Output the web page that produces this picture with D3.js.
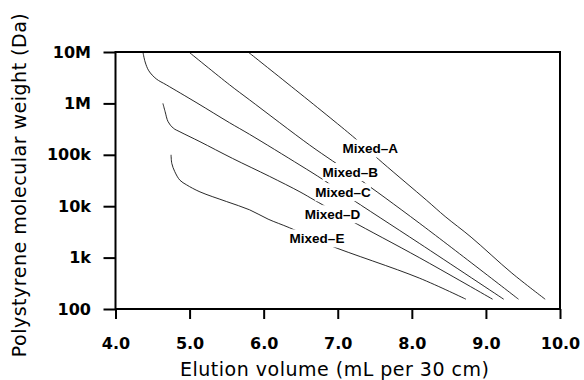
<!DOCTYPE html>
<html>
<head>
<meta charset="utf-8">
<script src="https://cdn.jsdelivr.net/npm/d3@7"></script>
<style>
  body { margin: 0; background: #fff; }
  svg { display: block; }
</style>
</head>
<body>
<div id="chart"></div>
<script>
// calibration curves: [elution volume mL, MW Da]
const mixedA = [[5.79, 1e7], [7.20, 2.3e5], [7.60, 7.1e4], [8.20, 1.3e4], [8.45, 6.3e3], [8.80, 2.5e3], [9.35, 500], [9.80, 155]];
const mixedB = [[4.99, 1e7], [5.54, 2.3e6], [5.81, 1.17e6], [6.62, 1.55e5], [6.93, 7.6e4], [7.25, 3.7e4], [8.10, 4.7e3], [9.44, 155]];
const mixedC = [[4.37, 1e7], [4.40, 6.4e6], [4.45, 4.3e6], [4.55, 3.0e6], [4.69, 2.28e6], [5.10, 1.02e6], [5.54, 4.2e5], [5.81, 2.5e5], [6.49, 6.3e4], [6.80, 3.3e4], [7.12, 1.6e4], [8.10, 1.9e3], [9.24, 155]];
const mixedD = [[4.64, 1e6], [4.67, 6.9e5], [4.71, 4.4e5], [4.78, 3.3e5], [4.87, 2.8e5], [5.14, 1.8e5], [5.58, 8.5e4], [6.08, 3.8e4], [6.49, 1.9e4], [6.69, 1.3e4], [7.16, 5.4e3], [8.10, 1.0e3], [9.09, 155]];
const mixedE = [[4.75, 1e5], [4.76, 6.8e4], [4.80, 4.7e4], [4.87, 3.2e4], [4.96, 2.6e4], [5.14, 1.9e4], [5.50, 1.23e4], [5.81, 8.5e3], [6.06, 5.6e3], [6.35, 3.8e3], [6.86, 1.8e3], [8.10, 400], [8.73, 155]];

const seriesNames = ['Mixed\u2013A', 'Mixed\u2013B', 'Mixed\u2013C', 'Mixed\u2013D', 'Mixed\u2013E'];
// where each label sits on its curve (volume, MW)
const labelAt = [[7.44, 1.35e5], [7.17, 4.7e4], [7.07, 1.9e4], [6.93, 7.1e3], [6.72, 2.4e3]];

const xTicks = [4, 5, 6, 7, 8, 9, 10];
const yTicks = [1e2, 1e3, 1e4, 1e5, 1e6, 1e7];
const yTickLabels = ['100', '1k', '10k', '100k', '1M', '10M'];

const W = 584, H = 380;
const margin = { top: 52, right: 24, bottom: 71, left: 115.5 };

const svg = d3.select('#chart').append('svg')
  .attr('width', W)
  .attr('height', H);

const x = d3.scaleLinear().domain([4, 10]).range([margin.left, W - margin.right]);
const y = d3.scaleLog().domain([100, 1e7]).range([H - margin.bottom, margin.top]);

const tickFont = 'DejaVu Sans, sans-serif';

// curves
const line = d3.line()
  .x(d => x(d[0]))
  .y(d => y(d[1]))
  .curve(d3.curveCatmullRom.alpha(0.5));

[mixedA, mixedB, mixedC, mixedD, mixedE].forEach(s => {
  svg.append('path')
    .datum(s)
    .attr('d', line)
    .attr('fill', 'none')
    .attr('stroke', '#111')
    .attr('stroke-width', 0.9);
});

// labels sit on top of the lines with a white box behind
seriesNames.forEach((name, i) => {
  const g = svg.append('g');
  const t = g.append('text')
    .attr('x', x(labelAt[i][0]))
    .attr('y', y(labelAt[i][1]))
    .attr('dy', '0.36em')
    .attr('text-anchor', 'middle')
    .style('font-family', 'Liberation Sans, Arial, sans-serif')
    .style('font-weight', 'bold')
    .style('font-size', '13.5px')
    .text(name);
  const bb = t.node().getBBox();
  g.insert('rect', 'text')
    .attr('x', bb.x)
    .attr('y', bb.y - 1.5)
    .attr('width', bb.width)
    .attr('height', bb.height + 3)
    .attr('fill', '#fff');
});

// frame
svg.append('rect')
  .attr('x', margin.left)
  .attr('y', margin.top)
  .attr('width', W - margin.left - margin.right)
  .attr('height', H - margin.top - margin.bottom)
  .attr('fill', 'none')
  .attr('stroke', '#000')
  .attr('stroke-width', 2);

// axes
const xAxis = svg.append('g')
  .attr('transform', `translate(0,${H - margin.bottom})`)
  .call(d3.axisBottom(x).tickValues(xTicks).tickFormat(d3.format('.1f')).tickSize(10).tickPadding(18.5));

const yAxis = svg.append('g')
  .attr('transform', `translate(${margin.left},0)`)
  .call(d3.axisLeft(y).tickValues(yTicks).tickFormat((d, i) => yTickLabels[i]).tickSize(12).tickPadding(12.5));

[xAxis, yAxis].forEach(a => {
  a.select('.domain').remove();
  a.selectAll('.tick line').attr('stroke', '#000').attr('stroke-width', 2);
  a.selectAll('.tick text')
    .attr('fill', '#000')
    .style('font-family', tickFont)
    .style('font-weight', 'bold')
    .style('font-size', '16px');
});

// axis titles
svg.append('text')
  .attr('x', (margin.left + W - margin.right) / 2 - 3)
  .attr('y', 376)
  .attr('text-anchor', 'middle')
  .style('font-family', tickFont)
  .style('font-size', '19px')
  .style('letter-spacing', '0.5px')
  .text('Elution volume (mL per 30 cm)');

svg.append('text')
  .attr('transform', 'translate(26,185) rotate(-90)')
  .attr('text-anchor', 'middle')
  .style('font-family', tickFont)
  .style('font-size', '19px')
  .style('letter-spacing', '0.5px')
  .text('Polystyrene molecular weight (Da)');
</script>
</body>
</html>
